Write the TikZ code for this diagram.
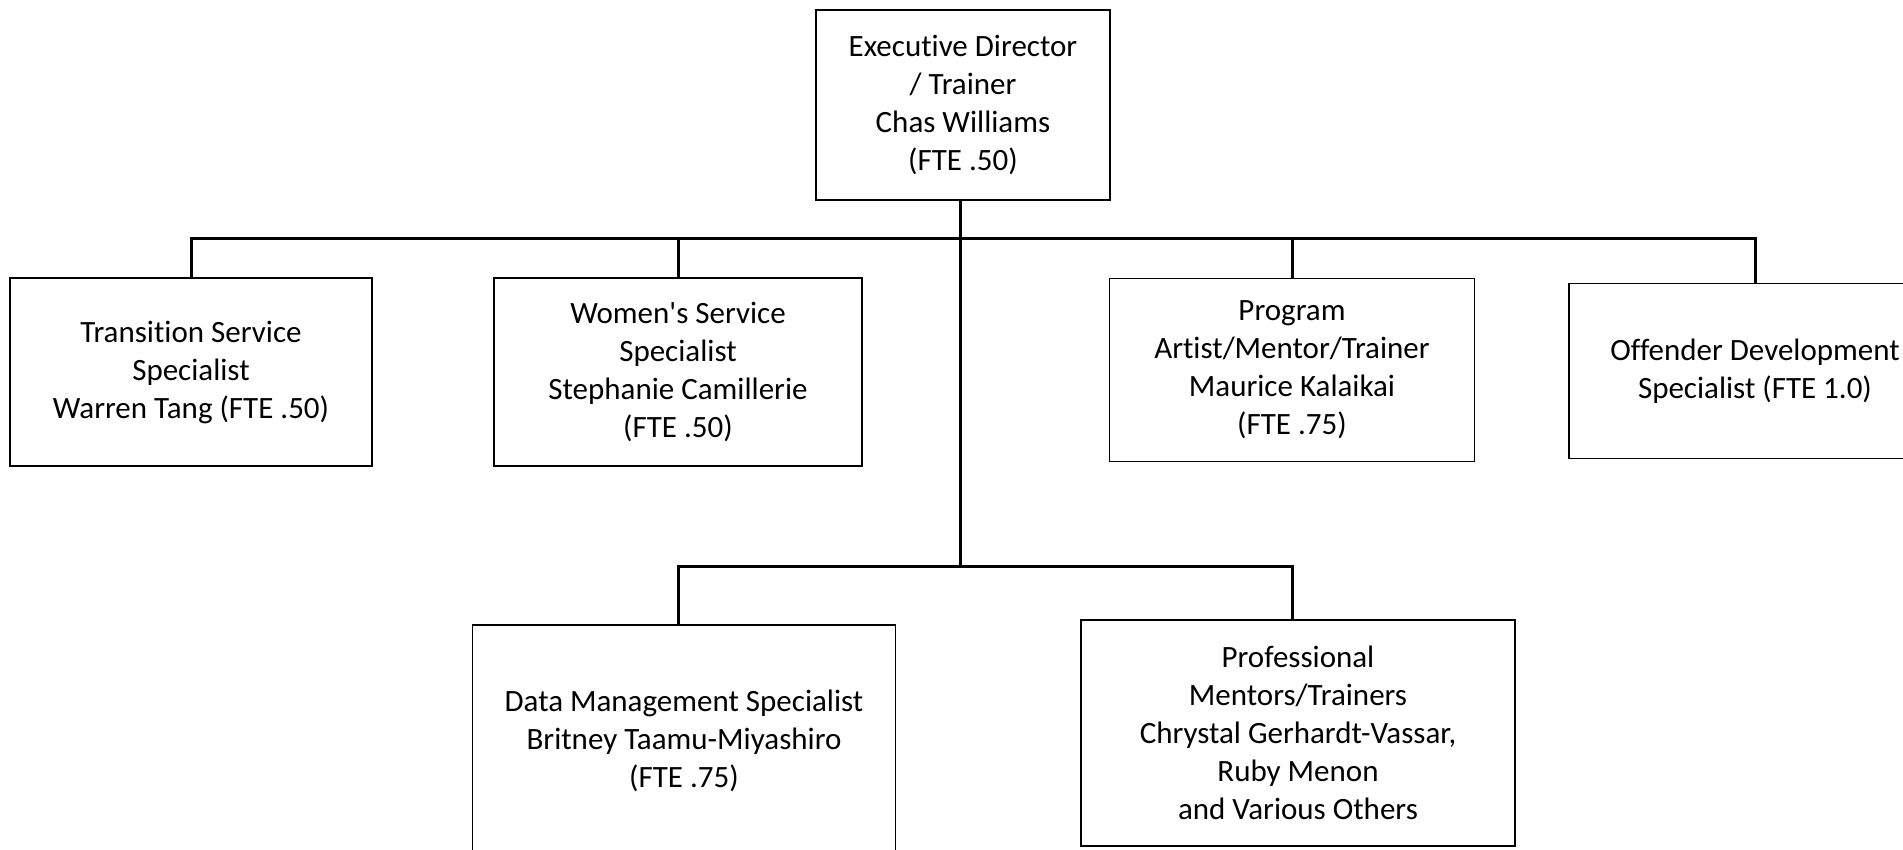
\documentclass[tikz,border=0pt]{standalone}
\usepackage{fontspec}
\setmainfont{Carlito}[Ligatures={NoCommon}]

\begin{document}
\begin{tikzpicture}[
  x=1pt, y=-1pt,
  font=\fontsize{31}{38}\selectfont,
  box/.style={draw, line width=1.4pt, align=center, inner sep=0pt, outer sep=0pt},
  link/.style={line width=3pt},
]
  \useasboundingbox (0,0) rectangle (1903,850);

  % Director on top, four staff below the first bar, two more below the second
  \node[box, minimum width=294pt, minimum height=190pt] (dir) at (963,105)
        {Executive Director\\/ Trainer\\Chas Williams\\(FTE .50)};
  \node[box, minimum width=362pt, minimum height=188pt] (trans) at (191,372)
        {Transition Service\\Specialist\\Warren Tang (FTE .50)};
  \node[box, minimum width=368pt, minimum height=188pt] (women) at (678,372)
        {Women\textquotesingle s Service\\Specialist\\Stephanie Camillerie\\(FTE .50)};
  \node[box, minimum width=365pt, minimum height=183pt] (prog) at (1292,370)
        {Program\\Artist/Mentor/Trainer\\Maurice Kalaikai\\(FTE .75)};
  \node[box, minimum width=372pt, minimum height=175pt] (offend) at (1755,371)
        {Offender Development\\Specialist (FTE 1.0)};
  \node[box, minimum width=423pt, minimum height=232pt] (data) at (684,741)
        {Data Management Specialist\\Britney Taamu-Miyashiro\\(FTE .75)};
  \node[box, minimum width=434pt, minimum height=226pt] (prof) at (1298,733)
        {Professional\\Mentors/Trainers\\Chrystal Gerhardt-Vassar,\\Ruby Menon\\and Various Others};

  % Connectors
  \coordinate (hub) at (960,239);
  \coordinate (hub2) at (960,566);
  \draw[link] (dir.south -| hub) -- (hub2);
  \draw[link] (trans.north) |- (hub) -| (offend.north);
  \draw[link] (women.north) -- (women.north |- hub);
  \draw[link] (prog.north) -- (prog.north |- hub);
  \draw[link] (women.north |- data.north) |- (hub2) -| (prog.north |- prof.north);
\end{tikzpicture}
\end{document}
